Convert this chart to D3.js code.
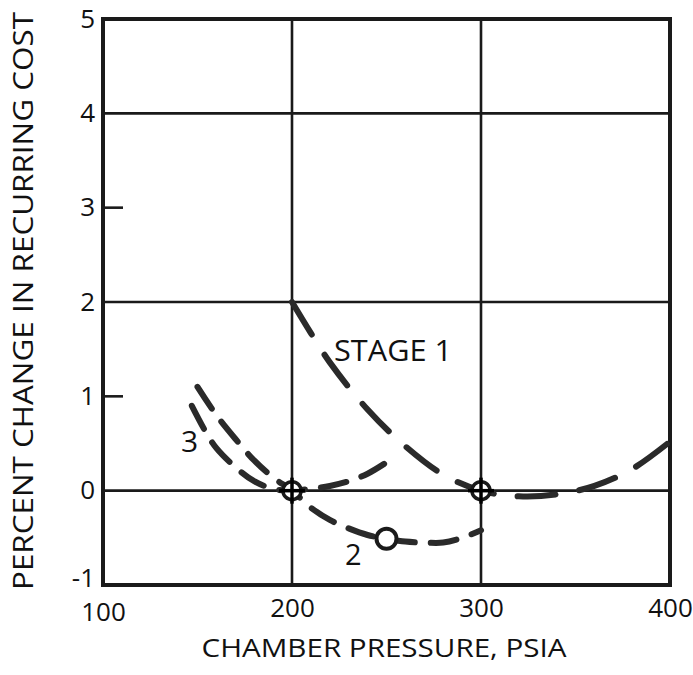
<!DOCTYPE html>
<html><head><meta charset="utf-8">
<script src="https://cdn.jsdelivr.net/npm/d3@7"></script>
<style>body{margin:0;background:#fff}svg{display:block}text{font-family:"Open Sans",sans-serif;fill:#111}</style>
</head><body><svg id="c" width="693" height="675"></svg>
<script>
const xTicks = [100, 200, 300, 400];
const yTicks = [-1, 0, 1, 2, 3, 4, 5];
const xGrid = [200, 300];
const yGrid = [0, 2, 4];
const yMinorTicks = [1, 3];

const stage1X = [200, 210, 220, 240, 260, 280, 300, 320, 340, 360, 380, 400];
const stage1Y = [2.0, 1.67, 1.36, 0.86, 0.47, 0.17, 0, -0.06, -0.04, 0.05, 0.23, 0.52];

const stage2X = [150, 160, 170, 180, 190, 200, 210, 220, 230, 240, 250, 260, 270, 280, 290, 300];
const stage2Y = [1.1, 0.8, 0.55, 0.32, 0.14, 0, -0.18, -0.31, -0.4, -0.47, -0.51, -0.54, -0.55, -0.55, -0.5, -0.42];

const stage3X = [147, 155, 160, 170, 180, 190, 200, 210, 220, 230, 240, 250];
const stage3Y = [0.9, 0.6, 0.45, 0.25, 0.1, 0.02, 0, 0.02, 0.05, 0.1, 0.18, 0.3];

const crossPoints = [[200, 0], [300, 0]];
const openPoints = [[250, -0.51]];

const svg = d3.select("#c");
const x = d3.scaleLinear().domain([100, 400]).range([103, 670]);
const y = d3.scaleLinear().domain([-1, 5]).range([585, 19]);
const ink = "#1a1a1a";

// grid
svg.append("g").selectAll("line").data(xGrid).join("line")
  .attr("x1", d => x(d)).attr("x2", d => x(d)).attr("y1", y(5)).attr("y2", y(-1))
  .attr("stroke", ink).attr("stroke-width", 2.6);
svg.append("g").selectAll("line").data(yGrid).join("line")
  .attr("x1", x(100)).attr("x2", x(400)).attr("y1", d => y(d)).attr("y2", d => y(d))
  .attr("stroke", ink).attr("stroke-width", 2.6);
svg.append("g").selectAll("line").data(yMinorTicks).join("line")
  .attr("x1", x(100)).attr("x2", x(100) + 20).attr("y1", d => y(d)).attr("y2", d => y(d))
  .attr("stroke", ink).attr("stroke-width", 2.6);

// frame
svg.append("rect").attr("x", x(100)).attr("y", y(5)).attr("width", x(400) - x(100)).attr("height", y(-1) - y(5))
  .attr("fill", "none").attr("stroke", ink).attr("stroke-width", 4);

// axes labels via d3 axes
const xAxis = svg.append("g").attr("transform", `translate(0,${y(-1)})`)
  .call(d3.axisBottom(x).tickValues(xTicks).tickSize(0).tickPadding(14).tickFormat(d3.format("d")));
xAxis.select(".domain").remove();
xAxis.selectAll("text").attr("font-size", 26).attr("fill", "#111").attr("font-family", "'Open Sans',sans-serif");
xAxis.selectAll(".tick").filter(d => d === 100).select("text").attr("dy", "0.86em");

const yAxis = svg.append("g").attr("transform", `translate(${x(100)},0)`)
  .call(d3.axisLeft(y).tickValues(yTicks).tickSize(0).tickPadding(8).tickFormat(d => d < 0 ? "-" + Math.abs(d) : d));
yAxis.select(".domain").remove();
yAxis.selectAll("text").attr("font-size", 26).attr("fill", "#111").attr("font-family", "'Open Sans',sans-serif");
yAxis.selectAll(".tick").filter(d => d === -1).select("text").attr("dy", "0.05em");

// titles
svg.append("text").attr("x", 384).attr("y", 657).attr("text-anchor", "middle")
  .attr("font-size", 26).attr("textLength", 365).attr("lengthAdjust", "spacingAndGlyphs")
  .text("CHAMBER PRESSURE, PSIA");
svg.append("text").attr("transform", "translate(33,301) rotate(-90)").attr("text-anchor", "middle")
  .attr("font-size", 27).attr("textLength", 578).attr("lengthAdjust", "spacingAndGlyphs")
  .text("PERCENT CHANGE IN RECURRING COST");

// curves
const line = d3.line().x(d => x(d[0])).y(d => y(d[1])).curve(d3.curveCatmullRom.alpha(0.5));
const series = [
  { xs: stage1X, ys: stage1Y, dash: "38,24" },
  { xs: stage2X, ys: stage2Y, dash: "26,16" },
  { xs: stage3X, ys: stage3Y, dash: "26,16" }
];
svg.append("g").selectAll("path").data(series).join("path")
  .attr("d", s => line(s.xs.map((v, i) => [v, s.ys[i]])))
  .attr("fill", "none").attr("stroke", "#2a2a2a").attr("stroke-width", 6)
  .attr("stroke-linecap", "round").attr("stroke-dasharray", s => s.dash);

// markers
const cg = svg.append("g").selectAll("g").data(crossPoints).join("g")
  .attr("transform", d => `translate(${x(d[0])},${y(d[1])})`);
cg.append("circle").attr("r", 9).attr("fill", "#fff").attr("stroke", ink).attr("stroke-width", 3.5);
cg.append("line").attr("x1", -13).attr("y1", 0).attr("x2", 13).attr("y2", 0).attr("stroke", "#000").attr("stroke-width", 3.5);
cg.append("line").attr("x1", 0).attr("y1", -13).attr("x2", 0).attr("y2", 13).attr("stroke", "#000").attr("stroke-width", 3.5);

svg.append("g").selectAll("circle").data(openPoints).join("circle")
  .attr("cx", d => x(d[0])).attr("cy", d => y(d[1])).attr("r", 10)
  .attr("fill", "#fff").attr("stroke", ink).attr("stroke-width", 4);

// curve labels
svg.append("text").attr("x", 334).attr("y", 361).attr("font-size", 30)
  .attr("textLength", 118).attr("lengthAdjust", "spacingAndGlyphs").text("STAGE 1");
svg.append("text").attr("x", 181).attr("y", 452).attr("font-size", 30).text("3");
svg.append("text").attr("x", 345).attr("y", 565).attr("font-size", 29).text("2");
</script>
</body></html>
